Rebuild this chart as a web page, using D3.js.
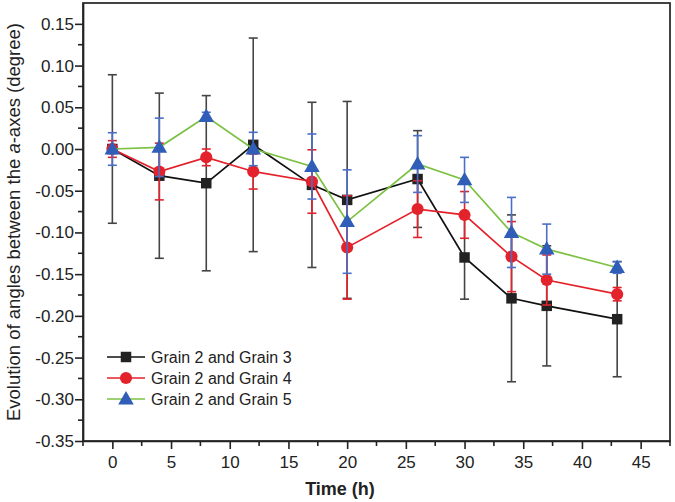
<!DOCTYPE html>
<html><head><meta charset="utf-8">
<script src="https://cdn.jsdelivr.net/npm/d3@7"></script>
<style>body{margin:0;background:#fff}svg{display:block}text{font-family:"Liberation Sans",Arial,sans-serif;fill:#222}</style>
</head><body><svg id="c" width="675" height="502"></svg>
<script>
const times = [0, 4, 8, 12, 17, 20, 26, 30, 34, 37, 43];
const seriesNames = ["Grain 2 and Grain 3", "Grain 2 and Grain 4", "Grain 2 and Grain 5"];
const g23 = [0, -0.032, -0.041, 0.005, -0.043, -0.061, -0.036, -0.130, -0.179, -0.188, -0.204];
const g23err = [0.089, 0.099, 0.105, 0.128, 0.099, 0.118, 0.058, 0.050, 0.100, 0.072, 0.069];
const g24 = [0, -0.027, -0.010, -0.027, -0.039, -0.118, -0.072, -0.079, -0.129, -0.157, -0.174];
const g24err = [0.010, 0.034, 0.010, 0.021, 0.038, 0.062, 0.034, 0.028, 0.042, 0.030, 0.008];
const g25 = [0, 0.002, 0.039, 0.000, -0.021, -0.087, -0.018, -0.037, -0.100, -0.120, -0.142];
const g25err = [0.0195, 0.035, 0.005, 0.020, 0.039, 0.062, 0.034, 0.027, 0.042, 0.030, 0.007];
const xTicks = [0, 5, 10, 15, 20, 25, 30, 35, 40, 45];
const yTicks = [0.15, 0.10, 0.05, 0.00, -0.05, -0.10, -0.15, -0.20, -0.25, -0.30, -0.35];

const svg = d3.select("#c");
const L = 83, R = 670, T = 3, B = 441;
const x = d3.scaleLinear().domain([-2.5, 47.5]).range([L, R]);
const y = d3.scaleLinear().domain([-0.35, 0.175]).range([B, T]);

const series = [
  {name: seriesNames[0], v: g23, e: g23err, line: "#111", fill: "#222", err: "#444", shape: "square"},
  {name: seriesNames[1], v: g24, e: g24err, line: "#e3222b", fill: "#e3222b", err: "#e3222b", shape: "circle"},
  {name: seriesNames[2], v: g25, e: g25err, line: "#7cc142", fill: "#2f5db8", err: "#4a6fc8", shape: "triangle"}
];

function sym(shape) {
  if (shape === "square") return d3.symbol(d3.symbolSquare, 110)();
  if (shape === "circle") return d3.symbol(d3.symbolCircle, 115)();
  return d3.symbol(d3.symbolTriangle, 105)();
}

// frame
svg.append("rect").attr("x", L).attr("y", T).attr("width", R - L).attr("height", B - T)
  .attr("fill", "none").attr("stroke", "#222").attr("stroke-width", 1.7);

// axes
const xAxis = d3.axisBottom(x).tickValues(xTicks).tickSize(8).tickSizeOuter(0).tickFormat(d3.format("d"));
const gx = svg.append("g").attr("transform", `translate(0,${B})`).call(xAxis);
gx.select(".domain").attr("stroke", "#222").attr("stroke-width", 1.7);
gx.selectAll(".tick line").attr("stroke", "#222").attr("stroke-width", 1.6);
gx.selectAll(".tick text").attr("font-size", 17).attr("dy", "0.95em").attr("fill", "#222");
const xMinor = d3.range(-2.5, 47.6, 5);
svg.append("g").selectAll("line").data(xMinor).join("line")
  .attr("x1", d => x(d)).attr("x2", d => x(d)).attr("y1", B).attr("y2", B + 5)
  .attr("stroke", "#222").attr("stroke-width", 1.6);

const yAxis = d3.axisLeft(y).tickValues(yTicks).tickSize(8).tickSizeOuter(0).tickFormat(d3.format(".2f"));
const gy = svg.append("g").attr("transform", `translate(${L},0)`).call(yAxis);
gy.select(".domain").attr("stroke", "#222").attr("stroke-width", 1.7);
gy.selectAll(".tick line").attr("stroke", "#222").attr("stroke-width", 1.6);
gy.selectAll(".tick text").attr("font-size", 17).attr("x", -9).attr("fill", "#222")
  .text(d => d3.format(".2f")(d).replace("−", "-"));
const yMinor = d3.range(-0.325, 0.17, 0.05);
svg.append("g").selectAll("line").data(yMinor).join("line")
  .attr("x1", L).attr("x2", L - 5).attr("y1", d => y(d)).attr("y2", d => y(d))
  .attr("stroke", "#222").attr("stroke-width", 1.6);

// axis titles
svg.append("text").attr("x", 340).attr("y", 495).attr("text-anchor", "middle")
  .attr("font-size", 18).attr("font-weight", "bold").text("Time (h)");
const yt = svg.append("text").attr("transform", `translate(20,${(T + B) / 2}) rotate(-90)`)
  .attr("text-anchor", "middle").attr("font-size", 18.5);
yt.append("tspan").text("Evolution of angles between the ");
yt.append("tspan").attr("font-style", "italic").text("a");
yt.append("tspan").text("-axes (degree)");

// series
const lineGen = d3.line().x((d, i) => x(times[i])).y(d => y(d));
series.forEach(s => {
  const g = svg.append("g");
  const eb = g.append("g").attr("stroke", s.err).attr("stroke-width", 1.6);
  times.forEach((t, i) => {
    const hi = y(s.v[i] + s.e[i]), lo = y(s.v[i] - s.e[i]), cx = x(t);
    eb.append("line").attr("x1", cx).attr("x2", cx).attr("y1", hi).attr("y2", lo);
    eb.append("line").attr("x1", cx - 4.5).attr("x2", cx + 4.5).attr("y1", hi).attr("y2", hi);
    eb.append("line").attr("x1", cx - 4.5).attr("x2", cx + 4.5).attr("y1", lo).attr("y2", lo);
  });
  g.append("path").datum(s.v).attr("d", lineGen).attr("fill", "none")
    .attr("stroke", s.line).attr("stroke-width", 1.7);
  g.selectAll("path.m").data(s.v).join("path").attr("class", "m")
    .attr("d", sym(s.shape))
    .attr("transform", (d, i) => `translate(${x(times[i])},${y(d) + (s.shape === "triangle" ? 1 : 0)})`)
    .attr("fill", s.fill);
});

// legend
const legY = [357, 378, 399];
series.forEach((s, i) => {
  const lg = svg.append("g").attr("transform", `translate(0,${legY[i]})`);
  lg.append("line").attr("x1", 107).attr("x2", 145).attr("y1", 0).attr("y2", 0)
    .attr("stroke", s.line).attr("stroke-width", 1.7);
  lg.append("path").attr("d", sym(s.shape)).attr("transform", `translate(126,${s.shape === "triangle" ? 1 : 0})`).attr("fill", s.fill);
  lg.append("text").attr("x", 151).attr("y", 6).attr("font-size", 16).text(s.name);
});
</script></body></html>
